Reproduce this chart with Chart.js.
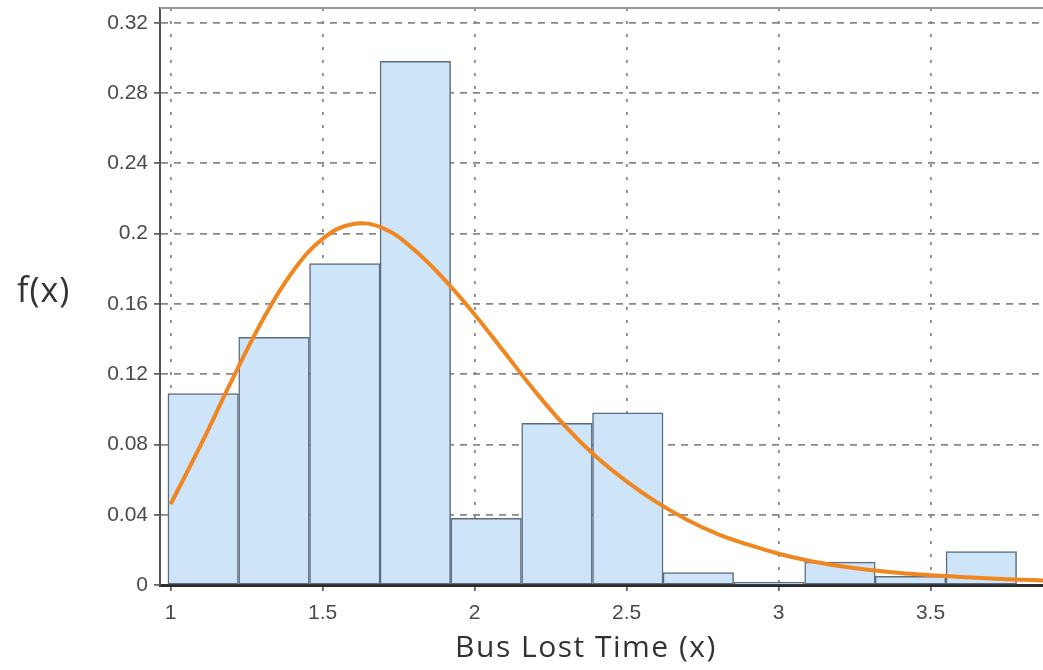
<!DOCTYPE html>
<html>
<head>
<meta charset="utf-8">
<script src="https://cdn.jsdelivr.net/npm/chart.js@4.4.1/dist/chart.umd.min.js"></script>
<style>
  body { margin: 0; background: #fff; }
  #wrap { position: relative; width: 1043px; height: 670px; overflow: hidden; }
  #chart { position: absolute; left: 0; top: 0; }
  .ytitle { position: absolute; left: 17px; top: 266px; font: 34px "Open Sans", sans-serif; letter-spacing: 1px; color: #333; }
  .xtitle { position: absolute; left: 586px; top: 625px; transform: translateX(-50%); font: 30px "Open Sans", sans-serif; letter-spacing: 1.5px; color: #333; white-space: nowrap; }
</style>
</head>
<body>
<div id="wrap">
  <canvas id="chart" width="1043" height="670"></canvas>
  <div class="ytitle">f(x)</div>
  <div class="xtitle">Bus Lost Time (x)</div>
</div>
<script>
// histogram bins (bin centres) and their density
const binCenters = [1.107, 1.340, 1.573, 1.805, 2.038, 2.271, 2.504, 2.736, 2.969, 3.202, 3.434, 3.667];
const binDensity = [0.109, 0.141, 0.183, 0.298, 0.038, 0.092, 0.098, 0.007, 0.0015, 0.013, 0.005, 0.019];

// fitted density curve
const curveX = [1.0, 1.1, 1.2, 1.3, 1.4, 1.5, 1.6, 1.7, 1.8, 1.9, 2.0, 2.1, 2.2, 2.3, 2.4, 2.5, 2.6, 2.7, 2.8, 2.9, 3.0, 3.1, 3.2, 3.3, 3.4, 3.5, 3.6, 3.7, 3.8, 3.87];
const curveY = [0.046, 0.080, 0.116, 0.150, 0.178, 0.197, 0.2055, 0.203, 0.191, 0.174, 0.154, 0.132, 0.110, 0.090, 0.073, 0.059, 0.047, 0.037, 0.029, 0.023, 0.0178, 0.0138, 0.0108, 0.0085, 0.0068, 0.0056, 0.0046, 0.0037, 0.003, 0.0026];

// axis ticks
const xTicks = [1, 1.5, 2, 2.5, 3, 3.5];
const yTicks = [0, 0.04, 0.08, 0.12, 0.16, 0.2, 0.24, 0.28, 0.32];

const frameTop = {
    id: 'frameTop',
    beforeDatasetsDraw(chart) {
        const a = chart.chartArea, c = chart.ctx;
        c.save();
        c.strokeStyle = '#9a9a9a';
        c.lineWidth = 2;
        c.beginPath();
        c.moveTo(a.left, a.top);
        c.lineTo(a.right, a.top);
        c.stroke();
        c.restore();
    }
};

const tickFont = { family: '"Liberation Sans", Arial, sans-serif', size: 21 };

new Chart(document.getElementById('chart').getContext('2d'), {
    type: 'bar',
    data: {
        datasets: [
            {
                type: 'line',
                data: curveX.map((x, i) => ({ x: x, y: curveY[i] })),
                borderColor: '#f0861f',
                borderWidth: 4,
                pointRadius: 0,
                tension: 0.4,
                fill: false,
                order: 0
            },
            {
                type: 'bar',
                data: binCenters.map((x, i) => ({ x: x, y: binDensity[i] })),
                backgroundColor: '#cde4f9',
                borderColor: '#5c6c7c',
                borderWidth: 1.5,
                borderSkipped: false,
                barPercentage: 1,
                categoryPercentage: 1,
                order: 1
            }
        ]
    },
    options: {
        responsive: false,
        animation: false,
        devicePixelRatio: 1,
        layout: { padding: { top: 8, right: 0, left: 0, bottom: 0 } },
        plugins: { legend: { display: false }, tooltip: { enabled: false } },
        scales: {
            x: {
                type: 'linear',
                min: 0.965,
                max: 3.87,
                offset: false,
                afterBuildTicks: (s) => { s.ticks = xTicks.map(v => ({ value: v })); },
                afterFit: (s) => { s.height = 85; },
                ticks: { color: '#4a4a4a', font: tickFont, padding: 10, maxRotation: 0, autoSkip: false,
                    callback: (v) => String(v) },
                grid: { offset: false, color: '#888', lineWidth: 1.8, tickLength: 6, tickColor: '#666' },
                border: { display: true, color: '#2b2b2b', width: 3, dash: [3, 10] }
            },
            y: {
                min: 0,
                max: 0.3284,
                afterBuildTicks: (s) => { s.ticks = yTicks.map(v => ({ value: v })); },
                afterFit: (s) => { s.width = 160; s.paddingTop = 0; },
                ticks: { color: '#4a4a4a', font: tickFont, padding: 6, autoSkip: false,
                    callback: (v) => String(v) },
                grid: { color: '#888', lineWidth: 1.8, tickLength: 6, tickColor: '#666' },
                border: { display: true, color: '#555', width: 2, dash: [7, 6] }
            }
        }
    },
    plugins: [frameTop]
});
</script>
</body>
</html>
